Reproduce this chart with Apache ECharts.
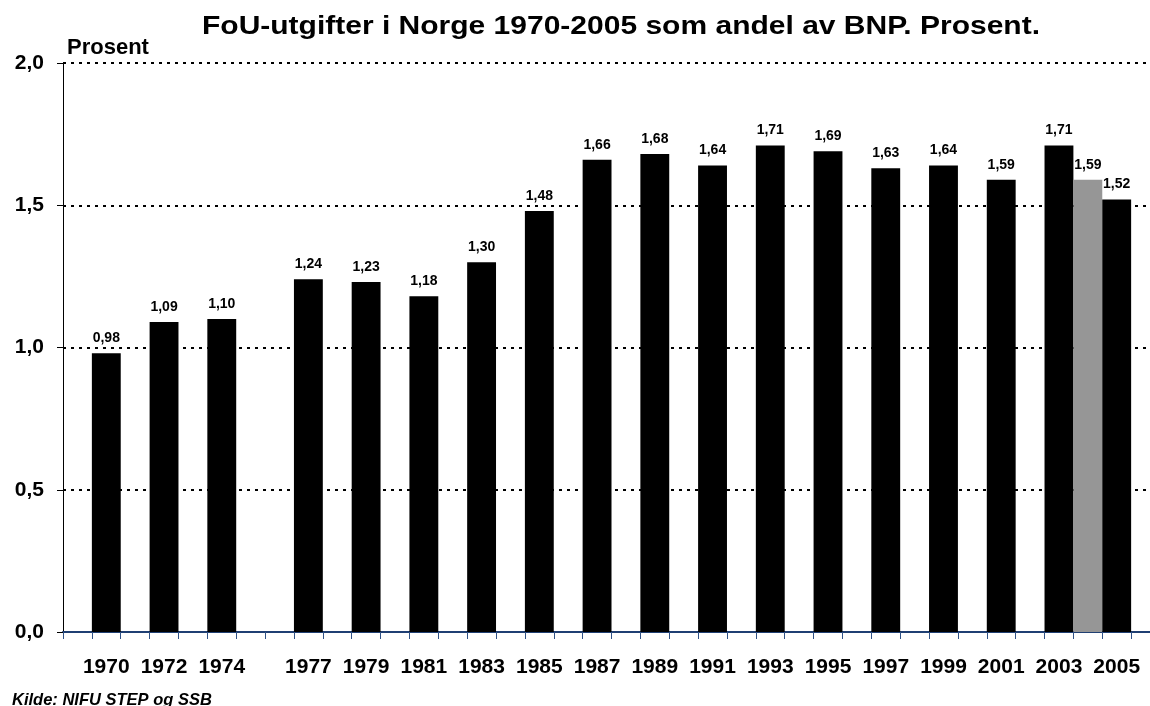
<!DOCTYPE html>
<html>
<head>
<meta charset="utf-8">
<script src="https://cdn.jsdelivr.net/npm/echarts@6/dist/echarts.min.js"></script>
<style>
  html, body { margin: 0; padding: 0; background: #fff; overflow: hidden; }
  /* litt bredere enn vinduet: plottet fortsetter forbi høyre kant, som i originalen */
  #chart { width: 1160px; height: 706px; }
</style>
</head>
<body>
<div id="chart"></div>
<script>
// år på x-aksen (ett felt per år, 1969 og 2006 er tomme kantfelt)
const years = [];
for (let y = 1969; y <= 2006; y++) years.push(String(y));

// FoU-andel av BNP, prosent
const measuredYears = ['1970', '1972', '1974', '1977', '1979', '1981', '1983', '1985', '1987',
  '1989', '1991', '1993', '1995', '1997', '1999', '2001', '2003', '2004', '2005'];
const measuredValues = [0.98, 1.09, 1.10, 1.24, 1.23, 1.18, 1.30, 1.48, 1.66,
  1.68, 1.64, 1.71, 1.69, 1.63, 1.64, 1.59, 1.71, 1.59, 1.52];
const greyYears = ['2004'];
const hiddenLabelYears = ['2004'];
const yTicks = [0, 0.5, 1.0, 1.5, 2.0];

const fmt = v => Number(v).toFixed(2).replace('.', ',');

const barData = years.map(y => {
  const i = measuredYears.indexOf(y);
  if (i < 0) return null;
  return {
    value: measuredValues[i],
    itemStyle: { color: greyYears.includes(y) ? '#969696' : '#000000' }
  };
});

const FONT = 'Arial, "Liberation Sans", sans-serif';

const chart = echarts.init(document.getElementById('chart'));
chart.setOption({
  animation: false,
  backgroundColor: '#ffffff',
  textStyle: { fontFamily: FONT },
  title: [
    {
      text: 'Prosent',
      left: 62, top: 32,
      textStyle: { fontSize: 22, fontWeight: 'bold', color: '#000' }
    },
    {
      text: 'Kilde: NIFU STEP og SSB',
      left: 7, top: 687,
      textStyle: { fontSize: 16.5, fontWeight: 'bold', fontStyle: 'italic', color: '#000' }
    }
  ],
  // tittelen er litt bredt strukket i originalen
  graphic: [
    {
      type: 'text',
      x: 621, y: 27,
      scaleX: 1.2,
      style: {
        text: 'FoU-utgifter i Norge 1970-2005 som andel av BNP. Prosent.',
        font: 'bold 25px ' + FONT,
        fill: '#000',
        textAlign: 'center',
        textVerticalAlign: 'middle'
      }
    }
  ],
  grid: { left: 63, top: 63, right: 0, bottom: 74, containLabel: false },
  xAxis: {
    type: 'category',
    data: years,
    boundaryGap: true,
    axisLine: { lineStyle: { color: '#1f3f73', width: 2 } },
    axisTick: { show: true, interval: 0, length: 7, lineStyle: { color: '#2f5186', width: 1 } },
    axisLabel: {
      interval: 0,
      margin: 25,
      fontSize: 21,
      fontWeight: 'bold',
      color: '#000',
      formatter: v => (measuredYears.includes(v) && !hiddenLabelYears.includes(v)) ? v : ''
    },
    splitLine: { show: false }
  },
  yAxis: {
    type: 'value',
    min: yTicks[0],
    max: yTicks[yTicks.length - 1],
    interval: 0.5,
    axisLine: { show: true, lineStyle: { color: '#000', width: 1 } },
    axisTick: { show: true, length: 6, lineStyle: { color: '#000' } },
    axisLabel: {
      margin: 19,
      fontSize: 21,
      fontWeight: 'bold',
      color: '#000',
      formatter: v => v.toFixed(1).replace('.', ',')
    },
    splitLine: { show: true, lineStyle: { color: '#000', type: [3, 5], width: 2 } }
  },
  series: [
    {
      type: 'bar',
      data: barData,
      barCategoryGap: '0%',
      label: {
        show: true,
        position: 'top',
        distance: 8,
        fontSize: 14,
        fontWeight: 'bold',
        color: '#000',
        formatter: p => fmt(p.value)
      }
    }
  ]
});
</script>
</body>
</html>
